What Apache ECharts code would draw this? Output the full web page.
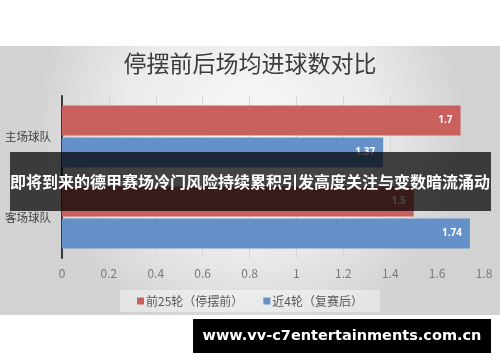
<!DOCTYPE html>
<html>
<head>
<meta charset="utf-8">
<script src="https://cdn.jsdelivr.net/npm/echarts@6/dist/echarts.min.js"></script>
<style>
html,body{margin:0;padding:0;background:#fff;}
#c{width:500px;height:362px;}
</style>
</head>
<body>
<div id="c"></div>
<script>
var titleText = '停摆前后场均进球数对比';
var categories = ['主场球队', '客场球队'];
var seriesNames = ['前25轮（停摆前）', '近4轮（复赛后）'];
var beforeValues = [1.7, 1.5];
var afterValues = [1.37, 1.74];
var bannerText = '即将到来的德甲赛场冷门风险持续累积引发高度关注与变数暗流涌动';
var watermarkText = 'www.vv-c7entertainments.com.cn';

var chart = echarts.init(document.getElementById('c'), null, {renderer: 'canvas'});
var cjk = '"Noto Sans CJK SC", "Noto Sans", sans-serif';
var option = {
  animation: false,
  backgroundColor: '#ffffff',
  color: ['#c9605e', '#6591c9'],
  title: {
    text: titleText,
    left: 'center',
    top: 52,
    padding: 0,
    textStyle: {fontFamily: cjk, fontSize: 23, fontWeight: 'normal', color: '#3c3c3c'}
  },
  legend: {
    data: seriesNames,
    left: 'center',
    top: 290,
    padding: [5, 17],
    itemGap: 20,
    itemWidth: 7,
    itemHeight: 7,
    backgroundColor: 'rgba(255,255,255,0.4)',
    icon: 'rect',
    textStyle: {fontFamily: cjk, fontSize: 12, color: '#595959', padding: [0, 0, 0, -3]}
  },
  grid: {left: 62, right: 16, top: 96, bottom: 104, containLabel: false, outerBoundsMode: 'none'},
  xAxis: {
    type: 'value',
    min: 0,
    max: 1.8,
    interval: 0.2,
    axisLine: {show: false},
    axisTick: {show: false},
    splitLine: {show: true, lineStyle: {color: '#d6d6d6', width: 1}},
    axisLabel: {
      margin: 9,
      fontFamily: cjk,
      fontSize: 12,
      color: '#7a7a7a',
      formatter: function (v) { return String(Math.round(v * 10) / 10); }
    }
  },
  yAxis: {
    type: 'category',
    data: categories,
    inverse: true,
    axisLine: {show: true, lineStyle: {color: '#3a3a3a', width: 2}},
    axisTick: {show: false},
    axisLabel: {margin: 11, fontFamily: cjk, fontSize: 11.5, color: '#404040'}
  },
  series: [
    {
      name: seriesNames[0],
      type: 'bar',
      data: beforeValues,
      barWidth: 30,
      barGap: '6%',
      label: {show: true, position: 'insideRight', distance: 8, color: '#ffffff', fontSize: 10, fontWeight: 'bold', fontFamily: '"Open Sans", sans-serif'}
    },
    {
      name: seriesNames[1],
      type: 'bar',
      data: afterValues,
      barWidth: 30,
      barGap: '6%',
      label: {show: true, position: 'insideRight', distance: 8, color: '#ffffff', fontSize: 10, fontWeight: 'bold', fontFamily: '"Open Sans", sans-serif'}
    }
  ],
  graphic: [
    {
      type: 'rect', z: -10, silent: true,
      shape: {x: 0, y: 46, width: 500, height: 269},
      style: {
        fill: {
          type: 'radial', x: 0.5, y: 0.3, r: 0.8,
          colorStops: [{offset: 0, color: '#f8f8f8'}, {offset: 0.6, color: '#eaeaea'}, {offset: 1, color: '#d2d2d2'}]
        }
      }
    },
    {
      type: 'rect', z: 100, silent: true,
      shape: {x: 10, y: 152, width: 481, height: 59},
      style: {fill: 'rgba(0,0,0,0.72)'}
    },
    {
      type: 'text', z: 101, silent: true,
      x: 250, y: 182,
      style: {text: bannerText, fill: '#ffffff', fontFamily: cjk, fontSize: 16, fontWeight: 'bold', textAlign: 'center', textVerticalAlign: 'middle'}
    },
    {
      type: 'rect', z: 100, silent: true,
      shape: {x: 193, y: 319, width: 298, height: 34},
      style: {fill: '#000000'}
    },
    {
      type: 'text', z: 101, silent: true,
      x: 342, y: 336,
      style: {text: watermarkText, fill: '#ffffff', fontFamily: '"DejaVu Sans", sans-serif', fontSize: 14.5, fontWeight: 'bold', textAlign: 'center', textVerticalAlign: 'middle'}
    }
  ]
};
chart.setOption(option);
</script>
</body>
</html>
